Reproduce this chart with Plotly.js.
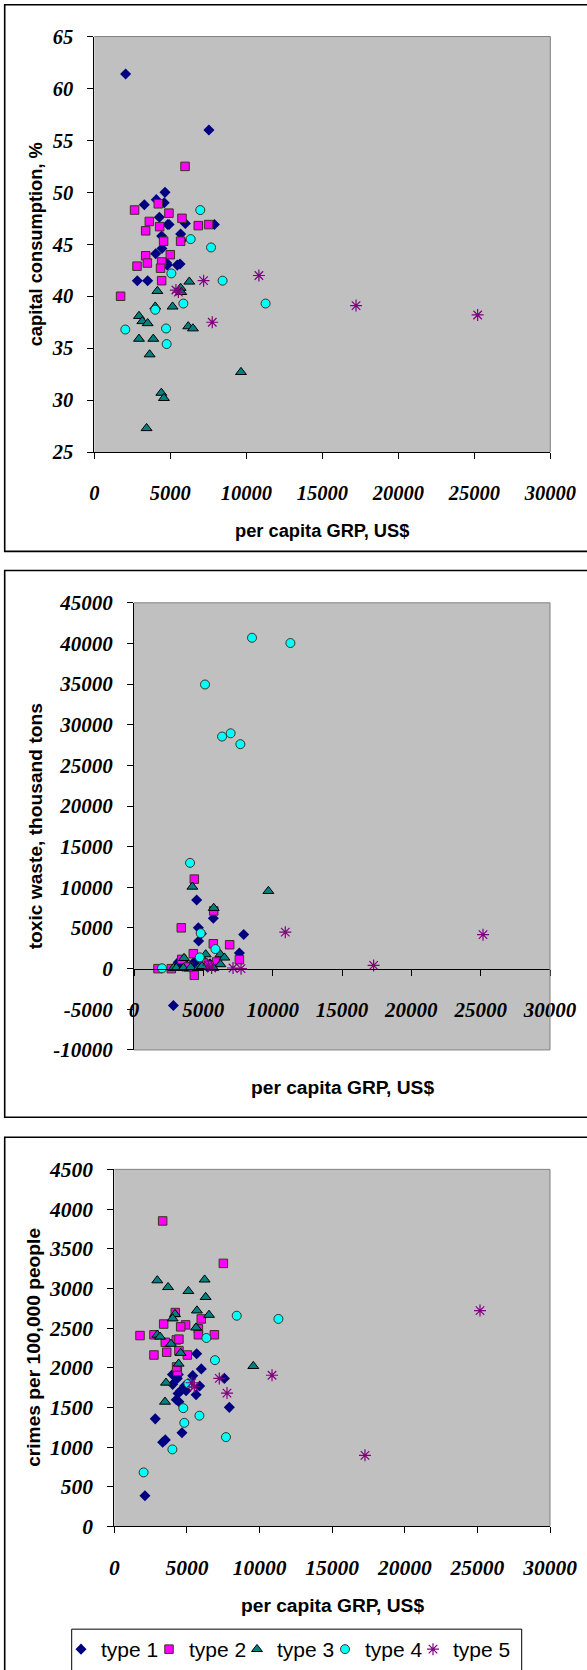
<!DOCTYPE html>
<html>
<head>
<meta charset="utf-8">
<script src="https://cdn.plot.ly/plotly-3.0.1.min.js"></script>
<style>html,body{margin:0;padding:0;background:#fff;}#chart{width:587px;height:1670px;}</style>
</head>
<body>
<div id="chart"></div>
<script>
// ===== DATA =====
const typeNames = ["type 1", "type 2", "type 3", "type 4", "type 5"];
const xTicks = [0, 5000, 10000, 15000, 20000, 25000, 30000];
const capTicks = [25, 30, 35, 40, 45, 50, 55, 60, 65];
const toxTicks = [-10000, -5000, 0, 5000, 10000, 15000, 20000, 25000, 30000, 35000, 40000, 45000];
const criTicks = [0, 500, 1000, 1500, 2000, 2500, 3000, 3500, 4000, 4500];

// Panel 1: capital consumption, %
const cap_t1_x = [2060, 7540, 4650, 4080, 3290, 4600, 4280, 4830, 4920, 5990, 7900, 5680, 4430, 5750, 4450, 4040, 4800, 5460, 5640, 4760, 2830, 3510];
const cap_t1_y = [61.4, 56.0, 50.0, 49.3, 48.8, 49.0, 47.6, 46.9, 46.9, 47.0, 46.9, 46.0, 45.8, 45.4, 44.6, 44.1, 43.0, 43.0, 43.1, 43.2, 41.5, 41.5];
const cap_t2_x = [5970, 2650, 4210, 4910, 5770, 3620, 4300, 3380, 6840, 7520, 4560, 5680, 3380, 5000, 2810, 3490, 4430, 4360, 4430, 1730];
const cap_t2_y = [52.5, 48.3, 48.9, 48.0, 47.5, 47.2, 46.7, 46.3, 46.8, 46.9, 45.3, 45.3, 43.9, 44.0, 42.9, 43.2, 43.3, 42.7, 41.5, 40.0];
const cap_t3_x = [6250, 4150, 5680, 5720, 5150, 4010, 2940, 3160, 3510, 6180, 6490, 2940, 3880, 3640, 9650, 4410, 4580, 3440];
const cap_t3_y = [41.4, 40.5, 40.8, 40.4, 39.0, 39.0, 38.1, 37.6, 37.4, 37.1, 36.9, 35.9, 35.9, 34.4, 32.7, 30.7, 30.2, 27.3];
const cap_t4_x = [6970, 6340, 7680, 5070, 8440, 5860, 11270, 4010, 2040, 4720, 4760];
const cap_t4_y = [48.3, 45.5, 44.7, 42.2, 41.5, 39.3, 39.3, 38.7, 36.8, 36.9, 35.4];
const cap_t5_x = [5370, 5530, 7190, 7760, 10830, 17220, 25220];
const cap_t5_y = [40.6, 40.4, 41.5, 37.5, 42.0, 39.1, 38.2];

// Panel 2: toxic waste, thousand tons
const tox_t1_x = [4520, 5720, 4640, 4860, 4660, 7910, 7600, 2840, 3200, 3800, 4330, 5000, 5480, 3500, 4100, 5300];
const tox_t1_y = [8440, 6200, 5020, 4300, 3390, 4200, 1920, -4530, 800, 400, 800, 1000, 600, 300, 100, 200];
const tox_t2_x = [4350, 3410, 5750, 5720, 6900, 4280, 7600, 4350, 1730, 2690, 3440, 5000, 5960, 5400, 3900];
const tox_t2_y = [11010, 5020, 7100, 3060, 2940, 1840, 1100, -820, 0, 0, 1140, 690, 820, 400, 200];
const tox_t3_x = [4210, 9690, 5750, 3610, 5170, 6230, 6520, 6230, 2840, 3050, 3560, 4090, 4640, 5720, 4900];
const tox_t3_y = [10070, 9540, 7460, 1300, 1750, 1750, 1350, 530, 80, 80, 80, 160, 80, 80, 300];
const tox_t4_x = [8510, 11280, 5120, 6350, 6970, 7670, 4040, 4810, 5870, 4740, 2020];
const tox_t4_y = [40700, 40050, 34950, 28550, 28950, 27610, 13010, 4360, 2410, 1390, 40];
const tox_t5_x = [5360, 5600, 7140, 7720, 10910, 17280, 25170];
const tox_t5_y = [400, 80, 80, 0, 4490, 400, 4180];

// Panel 3: crimes per 100,000 people
const cri_t1_x = [2110, 2820, 3330, 3510, 4660, 5670, 5990, 5400, 4000, 4410, 4020, 4340, 4390, 4570, 4940, 4840, 4270, 4450, 5630, 5880, 7580, 7920];
const cri_t1_y = [385, 1355, 1060, 1090, 1180, 2175, 1985, 1900, 1915, 1915, 1790, 1865, 1675, 1710, 1710, 1770, 1595, 1570, 1660, 1770, 1865, 1500];
const cri_t2_x = [3330, 7510, 1770, 2730, 3400, 4200, 4910, 4570, 5990, 5790, 5790, 6890, 3510, 4270, 4450, 3610, 2730, 4450, 5030, 4340, 4290];
const cri_t2_y = [3850, 3315, 2405, 2415, 2550, 2695, 2540, 2515, 2615, 2490, 2415, 2415, 2320, 2350, 2360, 2195, 2160, 2215, 2160, 1955, 2010];
const cri_t3_x = [2960, 3700, 5100, 6220, 6290, 5690, 6520, 4180, 4020, 5630, 2960, 3150, 3900, 4570, 4430, 9570, 3560, 3490];
const cri_t3_y = [3100, 3015, 2965, 3110, 2890, 2720, 2665, 2675, 2620, 2505, 2415, 2390, 2300, 2185, 2050, 2020, 1810, 1570];
const cri_t4_x = [8430, 11300, 6340, 6930, 5100, 4750, 4820, 5860, 7690, 4000, 2020];
const cri_t4_y = [2655, 2615, 2375, 2095, 1800, 1490, 1305, 1395, 1125, 970, 680];
const cri_t5_x = [5330, 5510, 7230, 7760, 10860, 17260, 25180];
const cri_t5_y = [1810, 1760, 1865, 1680, 1905, 895, 2720];

// ===== STYLES =====
const W = 587, H = 1670;
const markers = [
  {symbol: "diamond", size: 8.5, color: "#000080", line: {width: 0}},
  {symbol: "square", size: 8.5, color: "#FF00FF", line: {width: 1, color: "#3a3320"}},
  {symbol: "triangle-up", size: 9.5, color: "#008080", line: {width: 1, color: "#000000"}},
  {symbol: "circle", size: 9, color: "#00FFFF", line: {width: 1, color: "#3a3320"}},
  {symbol: "asterisk-open", size: 10, color: "#800080", line: {width: 1.2, color: "#800080"}}
];

// plot areas in pixels: [left, right, top, bottom]
const P1 = [94.3, 550.3, 36.7, 454.3];
const P2 = [134, 550, 605.7, 1055];
const P3 = [114.3, 550, 1175, 1533.7];
const P2zeroY = 973.3;

const fx = px => px / W;
const fy = py => (H - py) / H;

const tickFont = s => ({family: "Liberation Serif, 'Times New Roman', serif", size: s, color: "#000", weight: "bold", style: "italic"});
const titleFont = s => ({family: "Liberation Sans, Arial, sans-serif", size: s, color: "#000", weight: "bold"});

function xAxisCfg(P, fs, extra) {
  return Object.assign({
    domain: [fx(P[0]), fx(P[1])], range: [0, 30000],
    tickmode: "array", tickvals: xTicks, ticktext: xTicks.map(String),
    showline: true, linecolor: "#000", linewidth: 1, ticks: "outside", ticklen: 6, tickcolor: "#000",
    showgrid: false, zeroline: false, tickfont: tickFont(fs), ticklabelstandoff: 16, fixedrange: true
  }, extra || {});
}
function yAxisCfg(P, range, ticks, fs, extra) {
  return Object.assign({
    domain: [fy(P[3]), fy(P[2])], range: range,
    tickmode: "array", tickvals: ticks, ticktext: ticks.map(String),
    showline: true, linecolor: "#000", linewidth: 1, ticks: "outside", ticklen: 6, tickcolor: "#000",
    showgrid: false, zeroline: false, tickfont: tickFont(fs), ticklabelstandoff: 10, fixedrange: true
  }, extra || {});
}

// legend: one Plotly legend per entry so each can sit where the reference puts it
const legendIds = ["legend", "legend2", "legend3", "legend4", "legend5"];
const legendMarkerX = [84, 172, 260, 348, 436];
const LEG = {left: 71.7, right: 521.7, top: 1637};

const panels = [
  {xa: "x", ya: "y", data: [[cap_t1_x, cap_t1_y], [cap_t2_x, cap_t2_y], [cap_t3_x, cap_t3_y], [cap_t4_x, cap_t4_y], [cap_t5_x, cap_t5_y]], legend: false},
  {xa: "x2", ya: "y2", data: [[tox_t1_x, tox_t1_y], [tox_t2_x, tox_t2_y], [tox_t3_x, tox_t3_y], [tox_t4_x, tox_t4_y], [tox_t5_x, tox_t5_y]], legend: false},
  {xa: "x3", ya: "y3", data: [[cri_t1_x, cri_t1_y], [cri_t2_x, cri_t2_y], [cri_t3_x, cri_t3_y], [cri_t4_x, cri_t4_y], [cri_t5_x, cri_t5_y]], legend: true}
];

const traces = [];
panels.forEach(p => {
  p.data.forEach((d, i) => {
    traces.push({
      type: "scatter", mode: "markers", x: d[0], y: d[1], xaxis: p.xa, yaxis: p.ya,
      name: typeNames[i], showlegend: p.legend, legend: legendIds[i], marker: markers[i], hoverinfo: "x+y"
    });
  });
});

function frame(top, bottom) {
  return {type: "rect", xref: "paper", yref: "paper", x0: fx(4.7), x1: fx(600), y0: fy(bottom), y1: fy(top),
          line: {color: "#000", width: 1.6}, fillcolor: "rgba(0,0,0,0)", layer: "above"};
}
function grayLine(P, side) {
  const c = {color: "#808080", width: 1};
  if (side === "top") return {type: "line", xref: "paper", yref: "paper", x0: fx(P[0]), x1: fx(P[1]), y0: fy(P[2]), y1: fy(P[2]), line: c};
  if (side === "right") return {type: "line", xref: "paper", yref: "paper", x0: fx(P[1]), x1: fx(P[1]), y0: fy(P[3]), y1: fy(P[2]), line: c};
  return {type: "line", xref: "paper", yref: "paper", x0: fx(P[0]), x1: fx(P[1]), y0: fy(P[3]), y1: fy(P[3]), line: c};
}

function ann(text, x, y, rot, fs) {
  return {text: text, xref: "paper", yref: "paper", x: fx(x), y: fy(y), xanchor: "center", yanchor: "middle",
          showarrow: false, textangle: rot || 0, font: titleFont(fs)};
}

const layout = {
  width: W, height: H, autosize: false,
  margin: {l: 0, r: 0, t: 0, b: 0, pad: 0},
  paper_bgcolor: "#ffffff", plot_bgcolor: "#C0C0C0",
  showlegend: true,
  xaxis: xAxisCfg(P1, 20.5, {anchor: "y"}),
  yaxis: yAxisCfg(P1, [25, 65], capTicks, 20.5, {anchor: "x"}),
  xaxis2: xAxisCfg(P2, 21, {anchor: "free", position: fy(P2zeroY)}),
  yaxis2: yAxisCfg(P2, [-10000, 45000], toxTicks, 21, {anchor: "x2"}),
  xaxis3: xAxisCfg(P3, 21.5, {anchor: "y3"}),
  yaxis3: yAxisCfg(P3, [0, 4500], criTicks, 21.5, {anchor: "x3"}),
  shapes: [
    {type: "rect", xref: "paper", yref: "paper", x0: fx(LEG.left), x1: fx(LEG.right), y0: fy(1700), y1: fy(LEG.top),
     line: {color: "#000", width: 1}, fillcolor: "#ffffff", layer: "below"},
    frame(4.7, 554), frame(573.3, 1122.7), frame(1142.7, 1700),
    grayLine(P1, "top"), grayLine(P1, "right"),
    grayLine(P2, "top"), grayLine(P2, "right"), grayLine(P2, "bottom"),
    grayLine(P3, "top"), grayLine(P3, "right")
  ],
  annotations: [
    ann("capital consumption, %", 35, (P1[2] + P1[3]) / 2, -90, 18.3),
    ann("per capita GRP, US$", (P1[0] + P1[1]) / 2, 533, 0, 18.3),
    ann("toxic waste, thousand tons", 35, (P2[2] + P2[3]) / 2, -90, 19.2),
    ann("per capita GRP, US$", (P2[0] + P2[1]) / 2, 1093, 0, 19.2),
    ann("crimes per 100,000 people", 34, (P3[2] + P3[3]) / 2, -90, 19.2),
    ann("per capita GRP, US$", (P3[0] + P3[1]) / 2, 1613, 0, 19.2)
  ]
};

legendIds.forEach((id, i) => {
  layout[id] = {
    orientation: "h", x: fx(legendMarkerX[i] - 23), xanchor: "left", y: fy(LEG.top), yanchor: "top",
    bgcolor: "rgba(0,0,0,0)", borderwidth: 0,
    font: {family: "Liberation Sans, Arial, sans-serif", size: 21, color: "#000"},
    itemwidth: 30
  };
});

Plotly.newPlot("chart", traces, layout, {displayModeBar: false, staticPlot: true});
</script>
</body>
</html>
